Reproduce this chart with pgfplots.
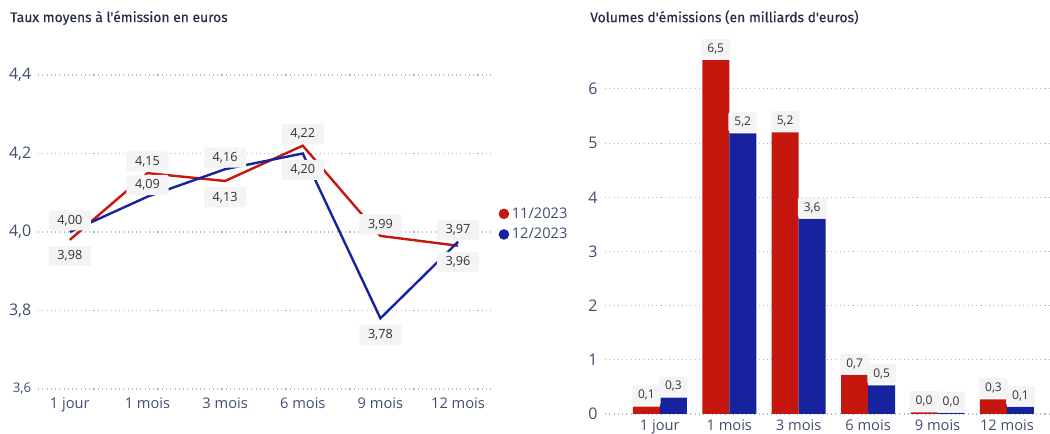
\documentclass[border=0pt]{standalone}
\usepackage{fontspec}
\setmainfont{Open Sans}
\newfontfamily\titlefont{Fira Sans}[FakeBold=0.3]
\usepackage{pgfplots}
\usepackage{pgfplotstable}
\pgfplotsset{compat=1.18}

\definecolor{novred}{RGB}{197,23,14}
\definecolor{decblue}{RGB}{23,35,158}
\definecolor{tickcol}{RGB}{64,78,110}
\definecolor{titlecol}{RGB}{37,45,75}
\definecolor{gridcol}{RGB}{176,184,208}
\definecolor{labfill}{RGB}{244,244,244}
\definecolor{labtext}{RGB}{51,51,51}

% taux moyens a l'emission
\pgfplotstableread{
x y lab
0 3.98 3,98
1 4.15 4,15
2 4.13 4,13
3 4.22 4,22
4 3.99 3,99
5 3.965 3,96
}\tauxNov
\pgfplotstableread{
x y lab
0 4.00 4,00
1 4.09 4,09
2 4.16 4,16
3 4.20 4,20
4 3.78 3,78
5 3.975 3,97
}\tauxDec

% volumes d'emissions
\pgfplotstableread{
x y lab
0 0.135 0,1
1 6.53 6,5
2 5.20 5,2
3 0.72 0,7
4 0.03 0,0
5 0.27 0,3
}\volNov
\pgfplotstableread{
x y lab
0 0.30 0,3
1 5.18 5,2
2 3.60 3,6
3 0.53 0,5
4 0.02 0,0
5 0.13 0,1
}\volDec

\tikzset{labbox/.style={fill=labfill, text=labtext, rounded corners=1pt}}

\pgfplotsset{
  pbi/.style={
    scale only axis,
    axis line style={draw=none},
    major tick length=0pt,
    ymajorgrids,
    grid style={gridcol, line width=0.8pt, dash pattern=on 0.8pt off 2.4pt},
    clip=false,
    xtick={0,...,5},
    xticklabels={1 jour,1 mois,3 mois,6 mois,9 mois,12 mois},
    tick label style={text=tickcol},
    xticklabel style={font=\fontsize{11}{13}\selectfont},
  },
  % etiquettes seules, sans trait
  labonly/.style={draw=none, mark=none, forget plot,
    point meta=explicit symbolic, nodes near coords},
  above/.style={labonly, every node near coord/.append style={anchor=south, yshift=1pt}},
  below/.style={labonly, every node near coord/.append style={anchor=north, yshift=-4.5pt}},
}

\begin{document}
\begin{tikzpicture}
\path[use as bounding box] (0,0) rectangle (787.5pt,325.5pt);

\node[anchor=west, inner sep=0pt, text=titlecol,
  font=\titlefont\fontsize{10.4}{12}\selectfont] at (7.5pt,312pt)
  {Taux moyens à l'émission en euros};
\node[anchor=west, inner sep=0pt, text=titlecol,
  font=\titlefont\fontsize{10.4}{12}\selectfont] at (442.5pt,312.5pt)
  {Volumes d'émissions (en milliards d'euros)};

\begin{axis}[
  pbi,
  at={(28.5pt,33.75pt)}, anchor=south west,
  width=341.25pt, height=235.5pt,
  xmin=-0.41, xmax=5.45, ymin=3.6, ymax=4.4,
  ytick={3.6,3.8,4.0,4.2,4.4},
  yticklabels={{\fontsize{10}{12}\selectfont 3,6},{3,8},{4,0},{4,2},{4,4}},
  yticklabel style={font=\fontsize{12}{14}\selectfont, xshift=-1.5pt},
  xticklabel style={yshift=-3pt},
  legend style={draw=none, fill=none, at={(1.012,0.525)}, anchor=west,
    font=\fontsize{11}{13}\selectfont, text=tickcol, inner sep=0pt,
    row sep=2pt, /tikz/every even column/.append style={column sep=2pt}},
  legend image code/.code={\fill[#1] (0.12cm,0cm) circle (3pt);},
  every node near coord/.append style={labbox,
    font=\fontsize{9.5}{11}\selectfont, inner xsep=6.5pt, inner ysep=3.5pt},
]
\addplot[novred, line width=1.8pt] table[x=x, y=y] {\tauxNov};
\addplot[decblue, line width=1.8pt] table[x=x, y=y] {\tauxDec};
\legend{11/2023, 12/2023}
% etiquettes 11/2023
\addplot[above, x filter/.expression={(x==1 || x==3 || x==4) ? x : nan}]
  table[x=x, y=y, meta=lab] {\tauxNov};
\addplot[below, x filter/.expression={(x==0 || x==2 || x==5) ? x : nan}]
  table[x=x, y=y, meta=lab] {\tauxNov};
% etiquettes 12/2023
\addplot[above, x filter/.expression={(x==3 || x==4) ? nan : x}]
  table[x=x, y=y, meta=lab] {\tauxDec};
\addplot[below, x filter/.expression={(x==3 || x==4) ? x : nan}]
  table[x=x, y=y, meta=lab] {\tauxDec};
\end{axis}

\begin{axis}[
  pbi,
  at={(453.75pt,15pt)}, anchor=south west,
  width=333.75pt, height=264.1pt,
  xmin=-0.79, xmax=5.62, ymin=0, ymax=6.5,
  ytick={0,...,6},
  yticklabel style={font=\fontsize{12}{14}\selectfont, xshift=-2pt,
    /pgf/number format/assume math mode=true},
  xticklabel style={yshift=-1pt},
  ybar=0pt, bar width=20.25pt,
  point meta=explicit symbolic,
  nodes near coords,
  every node near coord/.append style={labbox,
    font=\fontsize{9}{10}\selectfont, inner xsep=4.5pt, inner ysep=3.5pt, yshift=1pt},
]
\addplot[fill=novred, draw=none] table[x=x, y=y, meta=lab] {\volNov};
\addplot[fill=decblue, draw=none] table[x=x, y=y, meta=lab] {\volDec};
\end{axis}
\end{tikzpicture}
\end{document}
